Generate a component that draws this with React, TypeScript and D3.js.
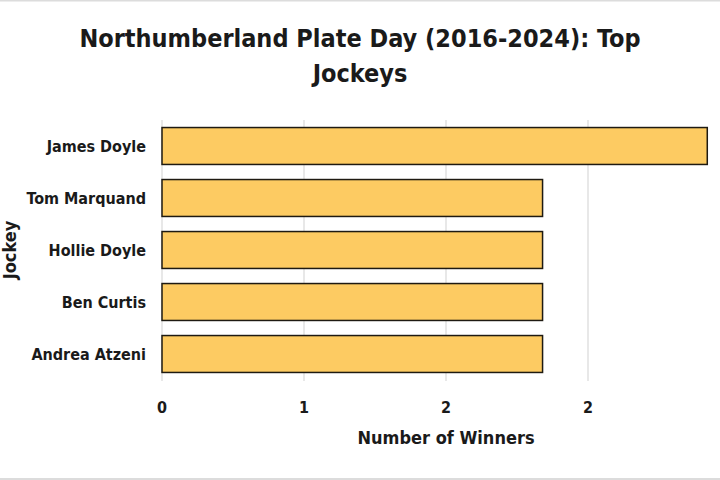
import { useEffect, useRef } from "react";
import * as d3 from "d3";

const jockeys = ["James Doyle", "Tom Marquand", "Hollie Doyle", "Ben Curtis", "Andrea Atzeni"];
const winners = [2.88, 2.01, 2.01, 2.01, 2.01];
const xTicks = [0, 0.75, 1.5, 2.25];
const titleLines = ["Northumberland Plate Day (2016-2024): Top", "Jockeys"];

const FONT = "'DejaVu Sans Condensed', 'Liberation Sans', sans-serif";

export default function App() {
  const ref = useRef<SVGSVGElement>(null);

  useEffect(() => {
    document.body.style.margin = "0";
    const el = ref.current;
    if (!el) return;
    const W = 720, H = 480, M = { top: 120, right: -10, bottom: 100, left: 162 };
    const svg = d3.select(el).attr("viewBox", `0 0 ${W} ${H}`).attr("width", W).attr("height", H);
    svg.selectAll("*").remove();
    svg.append("rect").attr("width", W).attr("height", H).attr("fill", "#fff");
    // frame lines top/bottom
    svg.append("line").attr("x1", 0).attr("x2", W).attr("y1", 0.5).attr("y2", 0.5).attr("stroke", "#dcdcdc").attr("stroke-width", 2);
    svg.append("line").attr("x1", 0).attr("x2", W).attr("y1", H - 1).attr("y2", H - 1).attr("stroke", "#dcdcdc").attr("stroke-width", 2);

    const x = d3.scaleLinear().domain([0, 3]).range([M.left, W - M.right]);
    const y = d3.scaleBand<string>().domain(jockeys).range([M.top, H - M.bottom]).paddingInner(0.29).paddingOuter(0.145);

    // gridlines
    svg.append("g").selectAll("line").data(xTicks).join("line")
      .attr("x1", (d) => x(d)).attr("x2", (d) => x(d)).attr("y1", M.top).attr("y2", H - M.bottom + 1)
      .attr("stroke", "#d9d9d9").attr("stroke-width", 1.2);

    // bars
    svg.append("g").selectAll("rect").data(jockeys).join("rect")
      .attr("x", x(0)).attr("y", (d) => y(d) ?? 0)
      .attr("width", (_d, i) => x(winners[i]) - x(0)).attr("height", y.bandwidth())
      .attr("fill", "#FDCB62").attr("stroke", "#1e1a12").attr("stroke-width", 1.5);

    // category labels
    svg.append("g").selectAll("text").data(jockeys).join("text")
      .attr("x", M.left - 16).attr("y", (d) => (y(d) ?? 0) + y.bandwidth() / 2).attr("dy", "0.35em")
      .attr("text-anchor", "end").attr("font-family", FONT).attr("font-weight", "bold").attr("font-size", 16)
      .attr("fill", "#1a1a1a").text((d) => d);

    // tick labels
    svg.append("g").selectAll("text").data(xTicks).join("text")
      .attr("x", (d) => x(d)).attr("y", 407).attr("dy", "0.35em").attr("text-anchor", "middle")
      .attr("font-family", FONT).attr("font-weight", "bold").attr("font-size", 16).attr("fill", "#1a1a1a")
      .text((d) => d3.format(".0f")(d));

    // axis titles
    svg.append("text").attr("x", (x(0) + x(3)) / 2).attr("y", 438).attr("dy", "0.35em").attr("text-anchor", "middle")
      .attr("font-family", FONT).attr("font-weight", "bold").attr("font-size", 18).attr("fill", "#1a1a1a").text("Number of Winners");
    svg.append("text").attr("transform", `translate(10,${(M.top + H - M.bottom) / 2}) rotate(-90)`).attr("dy", "0.35em")
      .attr("text-anchor", "middle").attr("font-family", FONT).attr("font-weight", "bold").attr("font-size", 18)
      .attr("fill", "#1a1a1a").text("Jockey");

    // title
    svg.append("g").selectAll("text").data(titleLines).join("text")
      .attr("x", 360).attr("y", (_d, i) => 38 + i * 35).attr("dy", "0.35em").attr("text-anchor", "middle")
      .attr("font-family", FONT).attr("font-weight", "bold").attr("font-size", 25).attr("fill", "#1a1a1a")
      .text((d) => d);
  }, []);

  return <svg ref={ref} role="img" aria-label="Northumberland Plate Day top jockeys" />;
}
